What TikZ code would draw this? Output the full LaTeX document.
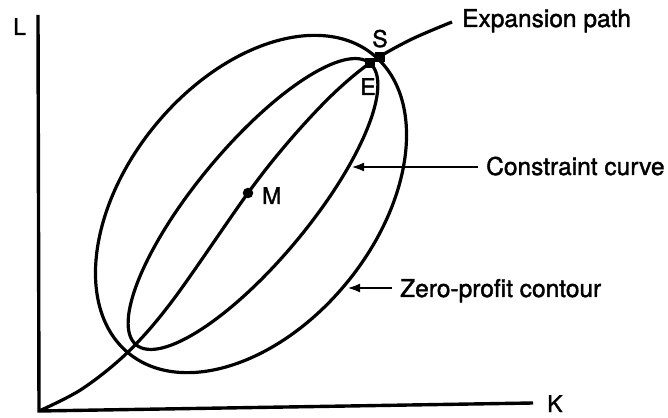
\documentclass[tikz,border=0pt]{standalone}
\usepackage{fontspec}
\setmainfont{TeX Gyre Heros}
\newfontfamily\lblfont{TeX Gyre Heros}[FakeBold=1.6]
\usetikzlibrary{arrows.meta}
\begin{document}
\begin{tikzpicture}[x=1pt,y=1pt,
  curve/.style={line width=3.2pt},
  axis/.style={line width=3.4pt, line join=miter},
  lbl/.style={font=\fontsize{24.5}{28}\lblfont, inner sep=0pt},
  letter/.style={font=\fontsize{23}{26}\lblfont, inner sep=0pt},
  dot/.style={circle, fill=black, inner sep=0pt, minimum size=10.5pt},
  sqdot/.style={rectangle, fill=black, inner sep=0pt, minimum size=9.5pt},
  pointer/.style={line width=2.6pt, -{Latex[length=13pt,width=9pt]}}]
\useasboundingbox (0,0) rectangle (668,417);
% axes
\coordinate (O) at (39,6);
\coordinate (Ytop) at (38,402);
\coordinate (Xend) at (533,14);
\draw[axis] (Ytop) -- (O) -- (Xend);
% zero-profit contour
\draw[curve, rotate around={50.6:(251,213)}] (251,213) ellipse [x radius=193pt, y radius=124pt];
% constraint curve
\draw[curve, rotate around={50.3:(253,213)}] (253,213) ellipse [x radius=183pt, y radius=57pt];
% expansion path
\draw[curve] plot[smooth, tension=0.55] coordinates {(O) (82,28) (128,65) (173,117) (248,224) (290,277) (332,322) (370,354) (410,377) (452,395)};
% points
\node[dot] (M) at (248,224) {};
\node[sqdot] (E) at (370,354) {};
\node[sqdot] (S) at (380,360) {};
% labels
\node[letter, anchor=base west] (Llab) at (13,382) {L};
\node[letter, anchor=base west] (Klab) at (547,5) {K};
\node[letter, anchor=base] (Slab) at (380,370) {S};
\node[letter, anchor=base] (Elab) at (368,322) {E};
\node[letter, anchor=base west] (Mlab) at (262,213) {M};
\node[lbl, anchor=base west] (ep) at (462,390) {Expansion path};
\node[lbl, anchor=base west] (cc) at (486,242) {Constraint curve};
\node[lbl, anchor=base west] (zp) at (400,120) {Zero-profit contour};
% pointers
\coordinate (ccTail) at (478,250);
\coordinate (ccTip) at (351,250);
\draw[pointer] (ccTail) -- (ccTip);
\coordinate (zpTail) at (392,129);
\coordinate (zpTip) at (347,129);
\draw[pointer] (zpTail) -- (zpTip);
\end{tikzpicture}
\end{document}
